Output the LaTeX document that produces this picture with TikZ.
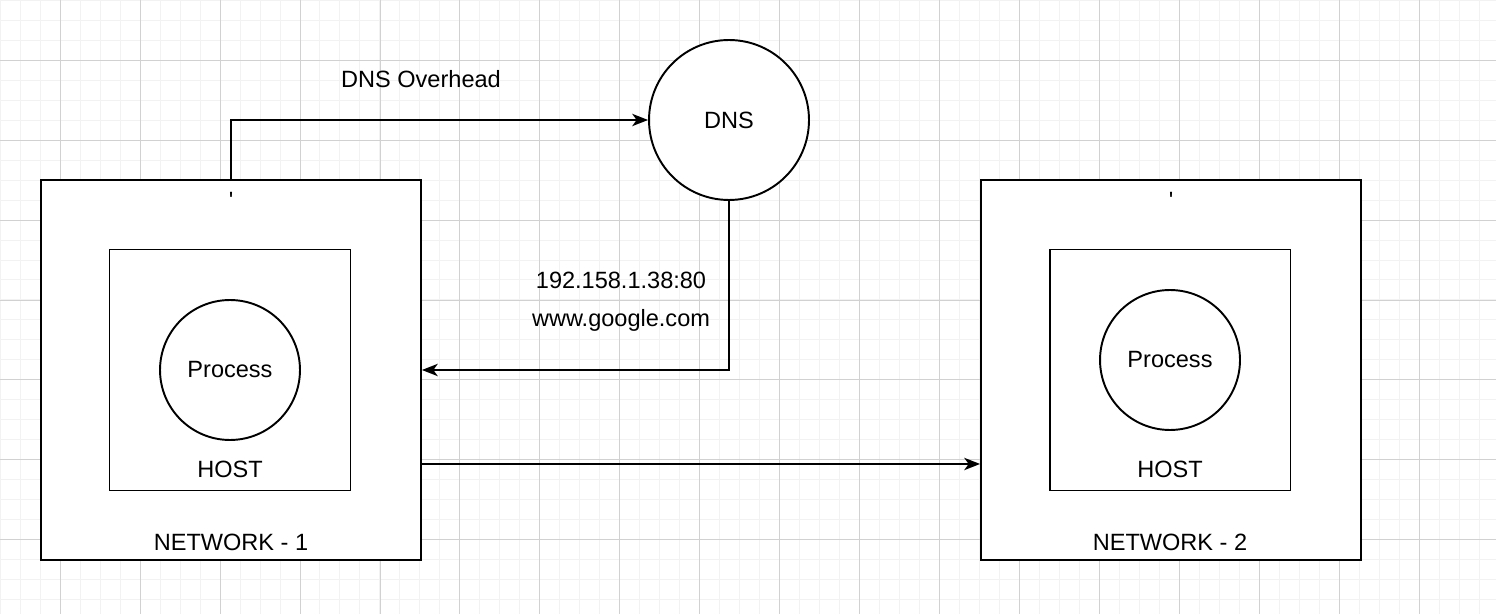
\documentclass[tikz,border=0pt]{standalone}
\usepackage{fontspec}
\setmainfont{Liberation Sans}
\usetikzlibrary{arrows.meta}
\tikzset{
	box/.style={draw=black, line width=1.1pt, fill=white, minimum width=#1, minimum height=#1, inner sep=0pt},
	proc/.style={draw=black, line width=1.1pt, fill=white, circle, minimum size=#1, inner sep=0pt},
	lbl/.style={font=\fontsize{13.4}{16}\selectfont, inner sep=0pt},
	link/.style={line width=1.1pt, -{Stealth[length=9pt, width=7pt, inset=2.5pt]}}
}
\begin{document}
\begin{tikzpicture}[x=0.02cm, y=-0.02cm]
			\useasboundingbox (0,0) rectangle (1496,614);
			\fill[white] (0,0) rectangle (1496,614);
			\draw[step=0.4cm, black!5, line width=0.5pt] (0,0) grid (1496,614);
			\draw[step=1.6cm, black!18, line width=0.5pt, shift={(60,60)}] (-60,-60) grid (1436,554);
			\node[box=7.6cm] (net1) at (231,370) {};
			\node[box=4.82cm] (host1) at (230,370) {};
			\node[proc=2.8cm] (proc1) at (230,370) {};
			\node[lbl] at (proc1) {Process};
			\node[lbl] (hostlbl1) at (230,469) {HOST};
			\node[lbl] (netlbl1) at (231,542) {NETWORK - 1};
			\node[lbl, below=7.5pt] (tick1) at (net1.north) {\textquotesingle};
			\node[box=7.6cm] (net2) at (1171,370) {};
			\node[box=4.82cm] (host2) at (1170,370) {};
			\node[proc=2.8cm] (proc2) at (1170,360) {};
			\node[lbl] at (proc2) {Process};
			\node[lbl] (hostlbl2) at (1170,469) {HOST};
			\node[lbl] (netlbl2) at (1170,542) {NETWORK - 2};
			\node[lbl, below=7.5pt] (tick2) at (net2.north) {\textquotesingle};
			\node[proc=3.2cm] (dns) at (729,120) {};
			\node[lbl] at (dns) {DNS};
			\node[lbl] (overhead) at (421,79) {DNS Overhead};
			\node[lbl] (ip) at (621,280) {192.158.1.38:80};
			\node[lbl] (url) at (621,320) {www.google.com};
			\draw[link] (net1.north) |- (dns);
			\draw[link] (dns) |- (net1);
			\draw[link] ([yshift=-1.88cm]net1.east) -- ([yshift=-1.88cm]net2.west);
		\end{tikzpicture}
\end{document}
